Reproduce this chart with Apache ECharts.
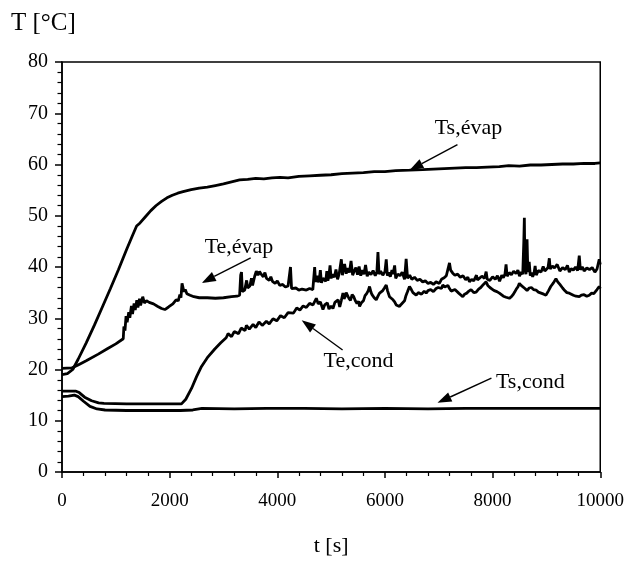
<!DOCTYPE html>
<html>
<head>
<meta charset="utf-8">
<script src="https://cdn.jsdelivr.net/npm/echarts@6.0.0/dist/echarts.min.js"></script>
<style>
  html, body { margin: 0; padding: 0; background: #fff; }
  #chart { width: 627px; height: 562px; }
</style>
</head>
<body>
<div id="chart"></div>
<script>
// temps : [t (s), T (°C)]
var tsEvap = [[0,19.0],[100,19.2],[200,20.0],[300,22.0],[450,25.2],[600,28.6],[750,32.2],[900,35.8],[1050,39.5],[1200,43.4],[1300,45.9],[1386,48.0],
  [1450,48.6],[1550,49.8],[1650,51.0],[1750,52.0],[1850,52.8],[1950,53.5],[2050,54.0],[2150,54.4],[2250,54.7],[2400,55.1],[2550,55.4],
  [2700,55.6],[2850,55.9],[3000,56.2],[3150,56.6],[3300,57.0],[3450,57.1],[3600,57.3],[3750,57.2],[3900,57.4],[4050,57.5],[4200,57.4],
  [4400,57.7],[4600,57.8],[4800,57.9],[5000,58.0],[5200,58.2],[5400,58.3],[5600,58.4],[5800,58.6],[6000,58.6],[6200,58.8],[6456,58.9],
  [6700,59.0],[6900,59.1],[7100,59.2],[7300,59.3],[7500,59.4],[7700,59.4],[7900,59.5],[8126,59.6],[8300,59.8],[8500,59.7],[8700,59.9],
  [8900,59.9],[9100,60.0],[9300,60.1],[9500,60.1],[9700,60.2],[9900,60.2],[10000,60.3]];

var teEvap = [[0,20.2],[180,20.3],[300,20.9],[450,21.7],[674,23.0],[850,24.1],[1000,25.0],[1138,26.0],[1150,28.4],[1170,27.6],[1190,30.4],
  [1210,29.2],[1240,31.2],[1260,30.1],[1290,32.4],[1310,30.8],[1340,32.9],[1360,31.6],[1390,33.5],[1410,32.1],[1440,33.8],[1460,32.5],
  [1500,34.2],[1530,33.0],[1570,33.4],[1620,33.1],[1700,32.8],[1780,32.3],[1850,31.9],[1911,31.7],[1980,32.2],[2060,32.8],[2120,33.6],
  [2160,33.4],[2190,34.6],[2210,34.0],[2230,36.8],[2250,37.1],[2265,35.2],[2290,35.6],[2320,34.8],[2380,34.5],[2450,34.2],[2550,34.0],
  [2700,34.0],[2850,33.9],[3000,34.0],[3150,34.2],[3250,34.3],[3300,34.5],[3320,38.4],[3335,39.0],[3350,35.2],[3395,35.5],[3430,37.4],
  [3450,35.9],[3490,36.3],[3520,37.8],[3540,36.4],[3580,38.2],[3610,39.2],[3640,38.4],[3670,39.1],[3700,38.6],[3740,38.1],[3770,38.9],
  [3800,37.8],[3850,37.4],[3880,38.1],[3910,37.2],[3960,36.8],[4000,37.3],[4045,36.4],[4100,36.6],[4150,36.1],[4200,36.3],[4230,36.0],
  [4245,40.0],[4265,35.8],[4300,35.6],[4350,35.9],[4400,35.5],[4460,35.7],[4540,35.5],[4600,35.8],[4660,35.6],[4694,40.0],[4710,37.1],
  [4740,38.3],[4760,37.0],[4780,37.6],[4800,39.4],[4820,36.9],[4850,37.8],[4880,38.0],[4900,37.2],[4920,39.2],[4940,37.3],[4960,38.4],
  [4980,40.3],[5000,37.8],[5030,38.6],[5060,38.0],[5090,39.5],[5120,37.6],[5150,38.7],[5190,41.5],[5210,38.4],[5230,39.6],[5250,40.6],
  [5280,38.7],[5310,39.8],[5340,38.9],[5370,41.2],[5400,38.4],[5430,39.2],[5460,39.9],[5490,38.5],[5520,40.1],[5550,38.3],[5580,39.4],
  [5610,38.6],[5640,40.4],[5670,38.2],[5700,39.0],[5740,38.5],[5780,39.3],[5820,38.3],[5850,39.0],[5870,42.9],[5890,38.6],[5920,39.2],
  [5960,38.4],[6000,39.1],[6024,41.5],[6045,38.3],[6070,38.9],[6100,38.1],[6130,39.4],[6150,38.6],[6180,40.3],[6200,37.8],[6240,38.6],
  [6280,38.3],[6320,39.0],[6364,37.6],[6394,41.6],[6420,37.8],[6460,38.4],[6500,37.6],[6550,38.0],[6600,37.4],[6650,37.6],[6700,37.1],
  [6750,37.3],[6800,36.8],[6850,37.0],[6900,36.6],[6950,37.1],[7010,36.8],[7050,37.6],[7100,37.9],[7140,38.3],[7170,38.6],[7199,40.8],
  [7220,39.4],[7260,38.8],[7300,38.4],[7350,38.6],[7400,38.0],[7450,38.3],[7500,37.5],[7540,38.0],[7570,37.1],[7610,37.6],[7650,37.3],
  [7700,38.4],[7720,37.5],[7750,37.6],[7800,38.2],[7850,37.8],[7880,39.1],[7900,37.6],[7950,37.4],[8000,38.1],[8050,37.6],[8090,38.3],
  [8130,37.2],[8170,38.4],[8200,37.9],[8230,38.6],[8250,40.5],[8270,38.2],[8310,38.9],[8350,38.5],[8390,39.2],[8435,38.7],[8470,39.4],
  [8500,38.2],[8530,39.0],[8560,38.6],[8580,45.0],[8590,49.6],[8600,40.0],[8620,38.6],[8640,45.4],[8655,39.0],[8680,41.0],[8700,38.3],
  [8720,38.9],[8744,38.1],[8770,38.8],[8790,40.2],[8810,38.4],[8850,39.3],[8900,39.0],[8940,40.1],[8970,39.2],[9000,39.4],[9030,39.9],
  [9054,41.7],[9070,39.6],[9110,40.2],[9150,39.8],[9200,40.5],[9250,39.2],[9300,39.9],[9350,39.5],[9390,40.3],[9425,39.0],[9460,39.7],
  [9500,39.4],[9540,40.0],[9580,39.3],[9610,42.2],[9630,39.5],[9670,40.0],[9700,39.2],[9750,39.8],[9800,39.5],[9850,39.9],[9900,39.0],
  [9940,39.6],[9960,39.4],[9981,41.5],[10000,40.5]];

var teCond = [[0,15.8],[150,15.8],[250,15.8],[320,15.5],[420,14.6],[550,13.9],[680,13.5],[780,13.4],[1200,13.3],[1800,13.3],[2220,13.3],
  [2300,14.2],[2406,16.3],[2500,18.6],[2592,20.6],[2700,22.3],[2839,24.0],[2950,25.2],[3050,26.2],[3086,27.0],[3150,26.4],[3200,27.4],
  [3280,27.0],[3330,28.1],[3400,27.6],[3426,28.6],[3480,27.9],[3550,28.8],[3600,28.2],[3660,29.3],[3720,28.6],[3797,29.4],[3850,28.9],
  [3920,29.9],[3990,29.5],[4060,30.5],[4130,30.1],[4200,31.1],[4230,31.3],[4300,31.0],[4360,32.0],[4420,31.6],[4480,32.4],[4540,32.1],
  [4600,32.9],[4663,32.6],[4725,33.9],[4760,32.8],[4800,33.2],[4848,31.7],[4880,32.6],[4900,32.4],[4930,33.0],[4960,31.8],[5000,32.4],
  [5034,31.9],[5070,33.1],[5100,32.8],[5130,33.6],[5160,32.2],[5190,33.5],[5220,34.9],[5240,33.8],[5260,34.2],[5280,35.0],[5300,34.7],
  [5330,33.9],[5360,33.5],[5390,34.6],[5420,34.2],[5450,33.4],[5480,32.9],[5510,33.3],[5529,32.3],[5560,33.0],[5600,33.4],[5630,34.4],
  [5660,34.8],[5690,35.4],[5714,36.2],[5740,35.1],[5760,34.6],[5800,34.0],[5838,33.6],[5870,34.3],[5900,34.9],[5930,34.6],[5960,35.4],
  [5990,35.9],[6024,36.5],[6050,35.3],[6085,34.2],[6120,34.0],[6150,33.6],[6180,33.2],[6209,32.6],[6240,32.9],[6271,32.3],[6300,32.7],
  [6330,33.0],[6364,33.4],[6390,34.4],[6420,35.2],[6456,36.2],[6490,35.6],[6520,35.0],[6550,34.8],[6580,34.5],[6620,35.0],[6650,35.2],
  [6680,34.7],[6700,34.6],[6730,35.3],[6766,34.9],[6800,35.4],[6850,35.6],[6900,35.2],[6951,35.8],[6990,36.0],[7020,36.3],[7050,35.8],
  [7075,36.5],[7110,36.1],[7140,35.9],[7170,36.4],[7199,35.8],[7230,35.3],[7260,35.0],[7300,35.6],[7330,35.5],[7370,34.9],[7400,34.6],
  [7446,34.2],[7480,34.7],[7520,34.9],[7560,35.3],[7600,35.6],[7650,35.0],[7694,35.1],[7740,35.7],[7780,36.0],[7830,36.6],[7879,37.1],
  [7910,36.4],[7950,36.0],[7990,35.7],[8030,35.4],[8080,35.2],[8126,34.9],[8160,34.6],[8200,34.3],[8250,34.1],[8312,33.9],[8350,34.2],
  [8380,34.6],[8410,35.1],[8440,35.7],[8470,36.1],[8497,36.8],[8530,36.4],[8560,36.2],[8600,35.8],[8640,35.4],[8680,35.9],[8720,36.0],
  [8760,35.6],[8807,35.5],[8850,35.1],[8900,34.9],[8950,34.7],[8992,34.5],[9040,35.4],[9080,36.2],[9130,36.9],[9177,37.7],[9210,37.1],
  [9250,36.6],[9300,35.9],[9340,35.4],[9380,35.0],[9425,34.9],[9460,34.6],[9500,34.5],[9550,34.3],[9610,34.2],[9650,34.5],[9700,34.6],
  [9750,34.3],[9796,34.5],[9840,34.9],[9880,34.8],[9940,35.6],[9981,36.2],[10000,35.8]];

var tsCond = [[0,14.7],[120,14.8],[230,15.0],[300,14.7],[400,13.8],[520,12.8],[650,12.3],[800,12.1],[1200,12.0],[1700,12.0],[2200,12.0],
  [2430,12.1],[2600,12.4],[3200,12.3],[3800,12.4],[4500,12.4],[5200,12.3],[6000,12.4],[6800,12.3],[7500,12.4],[8500,12.4],[10000,12.4]];

var xTicks = [0, 2000, 4000, 6000, 8000, 10000];
var yTicks = [0, 10, 20, 30, 40, 50, 60, 70, 80];

// étiquettes + flèches (coordonnées dans le repère du graphe)
var notes = [
  { text: 'Ts,évap', at: [7551, 67.0], from: [7347, 63.9], to: [6456, 58.9] },
  { text: 'Te,évap', at: [3288, 43.9], from: [3506, 41.8], to: [2597, 36.9] },
  { text: 'Te,cond', at: [5510, 21.7], from: [5213, 23.8], to: [4453, 29.6] },
  { text: 'Ts,cond', at: [8701, 17.6], from: [7978, 18.3], to: [6976, 13.5] }
];

var serif = '"Liberation Serif", "Times New Roman", serif';
var chart = echarts.init(document.getElementById('chart'));

function line(data) {
  return {
    type: 'line',
    data: data,
    showSymbol: false,
    symbol: 'none',
    lineStyle: { color: '#000', width: 2.8 },
    itemStyle: { color: '#000' }
  };
}

var option = {
  animation: false,
  title: {
    text: 'T [°C]',
    left: 11,
    top: 11,
    padding: 0,
    textStyle: { fontFamily: serif, fontSize: 25, fontWeight: 'normal', color: '#000' }
  },
  grid: {
    left: 62, top: 62, right: 26, bottom: 83,
    show: true, borderColor: '#000', borderWidth: 1.5
  },
  xAxis: {
    type: 'value',
    min: xTicks[0],
    max: xTicks[xTicks.length - 1],
    interval: xTicks[1] - xTicks[0],
    name: 't [s]',
    nameLocation: 'middle',
    nameGap: 63,
    nameTextStyle: { fontFamily: serif, fontSize: 22, color: '#000' },
    axisLine: { lineStyle: { color: '#000', width: 1.5 } },
    axisTick: { length: 6, lineStyle: { color: '#000', width: 1.5 } },
    minorTick: { show: true, splitNumber: 5, length: 4, lineStyle: { color: '#000', width: 1.2 } },
    axisLabel: {
      fontFamily: serif, fontSize: 19, color: '#000', margin: 20,
      formatter: function (v) { return String(v); }
    },
    splitLine: { show: false }
  },
  yAxis: {
    type: 'value',
    min: yTicks[0],
    max: yTicks[yTicks.length - 1],
    interval: yTicks[1] - yTicks[0],
    axisLine: { show: true, lineStyle: { color: '#000', width: 1.5 } },
    axisTick: { show: true, length: 7, lineStyle: { color: '#000', width: 1.5 } },
    minorTick: { show: true, splitNumber: 5, length: 4.5, lineStyle: { color: '#000', width: 1.2 } },
    axisLabel: { fontFamily: serif, fontSize: 20, color: '#000', margin: 14 },
    splitLine: { show: false }
  },
  series: [line(tsEvap), line(teEvap), line(teCond), line(tsCond)]
};
chart.setOption(option);

// dessine les flèches une fois les axes en place
function arrow(from, to) {
  var p0 = chart.convertToPixel({ gridIndex: 0 }, from);
  var p1 = chart.convertToPixel({ gridIndex: 0 }, to);
  var dx = p1[0] - p0[0], dy = p1[1] - p0[1];
  var len = Math.sqrt(dx * dx + dy * dy);
  var ux = dx / len, uy = dy / len;
  var head = 14, half = 5;
  var bx = p1[0] - ux * head, by = p1[1] - uy * head;
  return [
    { type: 'line', shape: { x1: p0[0], y1: p0[1], x2: bx, y2: by },
      style: { stroke: '#000', lineWidth: 1.4 }, z: 10 },
    { type: 'polygon', shape: { points: [[p1[0], p1[1]], [bx - uy * half, by + ux * half], [bx + uy * half, by - ux * half]] },
      style: { fill: '#000' }, z: 10 }
  ];
}

var elems = [];
notes.forEach(function (n) {
  var p = chart.convertToPixel({ gridIndex: 0 }, n.at);
  elems.push({
    type: 'text', x: p[0], y: p[1], z: 10,
    style: { text: n.text, font: '22px ' + serif, fill: '#000', align: 'center', verticalAlign: 'middle' }
  });
  elems = elems.concat(arrow(n.from, n.to));
});
chart.setOption({ graphic: elems });
</script>
</body>
</html>
